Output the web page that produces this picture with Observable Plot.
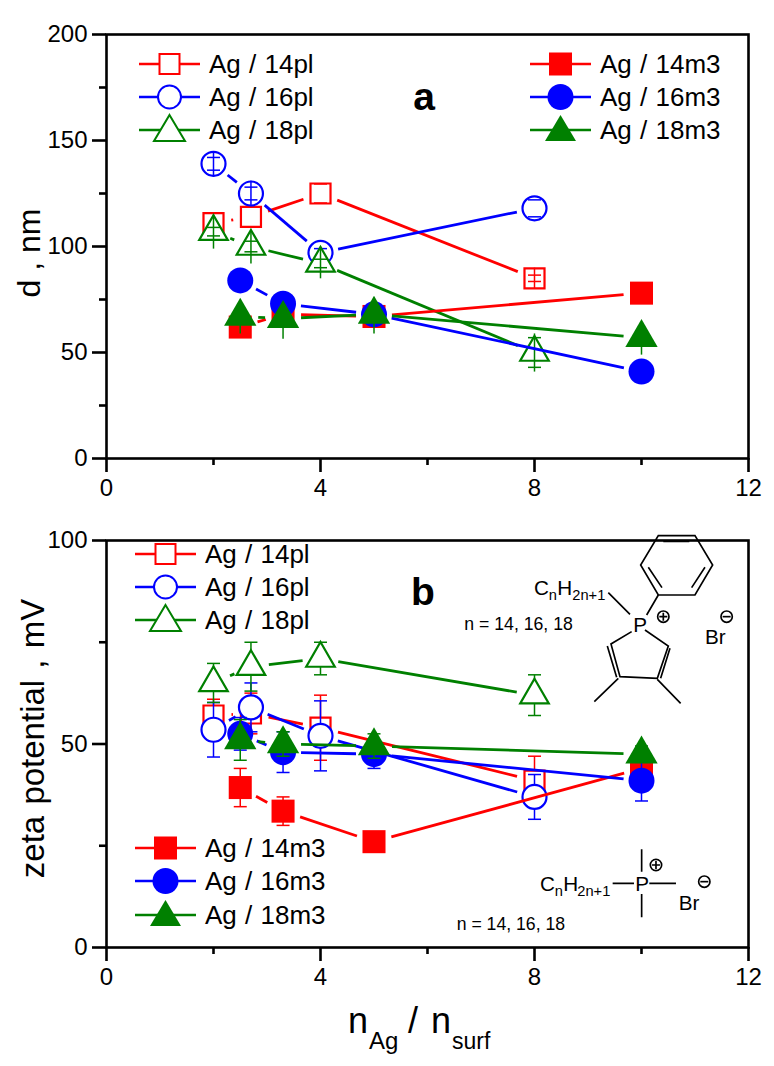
<!DOCTYPE html>
<html><head><meta charset="utf-8">
<script src="https://cdn.jsdelivr.net/npm/d3@7"></script>
<script src="https://cdn.jsdelivr.net/npm/@observablehq/plot@0.6"></script>
<style>
html,body{margin:0;padding:0;background:#fff}
#root{position:relative;width:774px;height:1066px;overflow:hidden;font-family:"Liberation Sans",Arial,sans-serif}
#root>svg,#root>.over>svg{position:absolute;left:0}
.leg{position:absolute;height:30px;display:flex;align-items:center}
.leg svg{display:block;flex:none;overflow:visible}
.leg span{font-size:26px;color:#000;white-space:nowrap;margin-left:8px;word-spacing:1px}
</style></head><body><div id="root"></div>
<script>
const xPl = [2, 2.7, 4, 8];
const xM3 = [2.5, 3.3, 5, 10];
const xMajor = [0, 4, 8, 12], xMinor = [2, 6, 10];

// panel a: d, nm
const a14pl = [111, 114, 125, 85];
const a16pl = [139, 125, 97, 118];
const a18pl = [107, 100, 92, 50];
const a14m3 = [62, 68, 67, 78];
const a16m3 = [84, 73, 68, 41];
const a18m3 = [67, 66, 68, 57];
// whisker reach up / down, and cap reach, in nm
const aWh14pl = [0, 0, 0, 5],    aCap14pl = [0, 0, 4.5, 1.5];
const aWh16pl = [6, 6, 3, 0],    aCap16pl = [3, 3, 2, 4];
const aWh18pl = [8, 8, 7, 9],    aCap18pl = [2, 2.5, 2, 7];
const aLo18m3 = [8, 9.5, 9, 8];

// panel b: zeta potential, mV
const b14pl = [57, 57.5, 54, 41];
const b16pl = [53.5, 59, 52, 37];
const b18pl = [65, 69, 71, 62];
const b14m3 = [39.3, 33.5, 26, 44];
const b16m3 = [52.5, 48, 47.5, 41];
const b18m3 = [51, 50, 49.5, 47.5];
const bEr14pl = [4, 5, 8, 6];
const bEr16pl = [6.7, 6, 8.6, 5.5];
const bEr18pl = [4.8, 6, 4, 5];
const bEr14m3 = [4.7, 3.5, 1, 2];
const bEr16m3 = [4, 5, 3.5, 5];
const bEr18m3 = [5, 3, 3, 2];

const RED = "#ff0000", BLUE = "#0000ff", GREEN = "#008000";
const W = 774, ML = 106, MR = 26;
const PX = (W - ML - MR) / 12;
const GAP = 18;            // gap kept between a line and its markers (px)
const FONT = '"Liberation Sans",Arial,sans-serif';
const R_OPEN = {square: 11.3, circle: 12, triangle: 10.6};
const R_FILL = {square: 13, circle: 13, triangle: 12};

// Connecting line broken around each marker, as in the original plotting style.
function segments(xs, ys, pxY) {
  const out = [];
  for (let i = 0; i + 1 < xs.length; i++) {
    const dx = (xs[i + 1] - xs[i]) * PX, dy = (ys[i + 1] - ys[i]) * pxY, d = Math.hypot(dx, dy);
    if (d <= 2 * GAP) continue;
    const t = GAP / d;
    out.push({
      x1: xs[i] + (xs[i + 1] - xs[i]) * t, y1: ys[i] + (ys[i + 1] - ys[i]) * t,
      x2: xs[i + 1] - (xs[i + 1] - xs[i]) * t, y2: ys[i + 1] - (ys[i + 1] - ys[i]) * t
    });
  }
  return out;
}
function seriesMarks(s, pxY, barsOnTop) {
  const pts = s.x.map((x, i) => ({x, y: s.y[i]}));
  const bars = s.x.map((x, i) => ({x, y1: s.y[i] + s.up[i], y2: s.y[i] - s.lo[i]})).filter(d => d.y1 !== d.y2);
  const caps = [];
  s.x.forEach((x, i) => {
    const c = 6.5 / PX;
    if (s.capUp[i] > 0) caps.push({x1: x - c, x2: x + c, y: s.y[i] + s.capUp[i]});
    if (s.capLo[i] > 0) caps.push({x1: x - c, x2: x + c, y: s.y[i] - s.capLo[i]});
  });
  const barMarks = [
    Plot.link(bars, {x1: "x", x2: "x", y1: "y1", y2: "y2", stroke: s.color, strokeWidth: 1.5}),
    Plot.link(caps, {x1: "x1", x2: "x2", y1: "y", y2: "y", stroke: s.color, strokeWidth: 1.5})
  ];
  const dots = Plot.dot(pts, {x: "x", y: "y", symbol: () => s.symbol, r: (s.filled ? R_FILL : R_OPEN)[s.symbol],
    fill: s.filled ? s.color : "white", stroke: s.filled ? "none" : s.color, strokeWidth: 2.2});
  const line = Plot.link(segments(s.x, s.y, pxY), {x1: "x1", y1: "y1", x2: "x2", y2: "y2", stroke: s.color, strokeWidth: 2.8});
  return barsOnTop ? [line, dots, ...barMarks] : [line, ...barMarks, dots];
}
function mk(x, y, color, symbol, filled, up, lo, capUp, capLo) {
  const z = x.map(() => 0);
  return {x, y, color, symbol, filled, up: up || z, lo: lo || up || z, capUp: capUp || up || z, capLo: capLo || capUp || lo || up || z};
}
function panel(series, yMax, yMajor, yMinor, top, height, mTop, mBottom, barsOnTop) {
  const pxY = (height - mTop - mBottom) / yMax;
  const p = Plot.plot({
    width: W, height, marginLeft: ML, marginRight: MR, marginTop: mTop, marginBottom: mBottom,
    style: {fontFamily: FONT, fontSize: "24px", color: "#000", background: "transparent", overflow: "visible"},
    x: {domain: [0, 12], label: null},
    y: {domain: [0, yMax], label: null},
    marks: [
      ...series.flatMap(s => seriesMarks(s, pxY, barsOnTop)),
      Plot.frame({stroke: "#000", strokeWidth: 2.6}),
      Plot.axisX({ticks: xMajor, tickSize: 14, strokeWidth: 2.6, tickPadding: 6, fontSize: 24, tickFormat: d => String(d), label: null}),
      Plot.axisX({ticks: xMinor, tickSize: 7, strokeWidth: 2.6, tickFormat: () => "", label: null}),
      Plot.axisY({ticks: yMajor, tickSize: 14, strokeWidth: 2.6, tickPadding: 5, fontSize: 24, tickFormat: d => String(d), label: null}),
      Plot.axisY({ticks: yMinor, tickSize: 7, strokeWidth: 2.6, tickFormat: () => "", label: null})
    ]
  });
  p.style.top = top + "px";
  return p;
}
const root = document.getElementById("root");
const seriesA = [
  mk(xPl, a14pl, RED, "square", false, aWh14pl, aWh14pl, aCap14pl),
  mk(xPl, a16pl, BLUE, "circle", false, aWh16pl, aWh16pl, aCap16pl),
  mk(xPl, a18pl, GREEN, "triangle", false, aWh18pl, aWh18pl, aCap18pl),
  mk(xM3, a14m3, RED, "square", true),
  mk(xM3, a16m3, BLUE, "circle", true),
  mk(xM3, a18m3, GREEN, "triangle", true, xM3.map(() => 0), aLo18m3, xM3.map(() => 0), xM3.map(() => 0))
];
const seriesB = [
  mk(xPl, b14pl, RED, "square", false, bEr14pl),
  mk(xPl, b16pl, BLUE, "circle", false, bEr16pl),
  mk(xPl, b18pl, GREEN, "triangle", false, bEr18pl),
  mk(xM3, b14m3, RED, "square", true, bEr14m3),
  mk(xM3, b16m3, BLUE, "circle", true, bEr16m3),
  mk(xM3, b18m3, GREEN, "triangle", true, bEr18m3)
];
root.append(panel(seriesA, 200, [0, 50, 100, 150, 200], [25, 75, 125, 175], 0, 500, 34, 42, true));
root.append(panel(seriesB, 100, [0, 50, 100], [25, 75], 500, 566, 40, 119, false));

// legends
function swatch(color, symbol, filled) {
  const st = filled ? `fill="${color}"` : `fill="white" stroke="${color}" stroke-width="2"`;
  let m;
  if (symbol === "square") m = filled ? `<rect x="19" y="3.5" width="23" height="23" ${st}/>` : `<rect x="20.5" y="5" width="20" height="20" ${st}/>`;
  if (symbol === "circle") m = `<circle cx="30.5" cy="15" r="${filled ? 13 : 11.5}" ${st}/>`;
  if (symbol === "triangle") m = `<path d="M30.5,0L46,26H15Z" ${st}/>`;
  return `<svg width="62" height="30"><line x1="0" x2="61" y1="15" y2="15" stroke="${color}" stroke-width="2.6"/>${m}</svg>`;
}
function legend(label, color, symbol, filled, x, y) {
  const d = document.createElement("div");
  d.className = "leg";
  d.style.left = x + "px"; d.style.top = (y - 15) + "px";
  d.innerHTML = swatch(color, symbol, filled) + `<span>${label}</span>`;
  root.append(d);
}
const legLabels = ["Ag / 14pl", "Ag / 16pl", "Ag / 18pl"];
const legLabelsM = ["Ag / 14m3", "Ag / 16m3", "Ag / 18m3"];
const legColors = [RED, BLUE, GREEN], legSymbols = ["square", "circle", "triangle"];
[64, 97, 130].forEach((y, i) => {
  legend(legLabels[i], legColors[i], legSymbols[i], false, 139, y);
  legend(legLabelsM[i], legColors[i], legSymbols[i], true, 530, y);
});
[554, 587, 620].forEach((y, i) => legend(legLabels[i], legColors[i], legSymbols[i], false, 135, y));
[848, 881, 915].forEach((y, i) => legend(legLabelsM[i], legColors[i], legSymbols[i], true, 135, y));

// titles, panel letters and structure drawings
const overlay = document.createElement("div");
overlay.className = "over";
overlay.innerHTML = `<svg width="774" height="1066" style="top:0;pointer-events:none" font-family='${FONT}' fill="#000">
<text x="424" y="110" font-size="39" font-weight="bold" text-anchor="middle">a</text>
<text x="423" y="605" font-size="39" font-weight="bold" text-anchor="middle">b</text>
<text transform="translate(40,253) rotate(-90)" font-size="32" text-anchor="middle">d , nm</text>
<text transform="translate(44,738.5) rotate(-90)" font-size="33" word-spacing="2" text-anchor="middle">zeta potential , mV</text>
<text x="348" y="1033" font-size="36">n</text><text x="369" y="1049" font-size="24">Ag</text>
<text x="408" y="1033" font-size="36">/</text><text x="431" y="1033" font-size="36">n</text><text x="452" y="1049" font-size="23">surf</text>
<g transform="translate(450,520) scale(0.3333)" stroke="#000" stroke-width="5" fill="none">
<path d="M625,47L735,47L788,135L735,225L625,225L572,135Z"/>
<path d="M640,64L718,64M595,142L636,203M765,142L725,203M625,225L590,285M475,218L540,283"/>
<path d="M545,335L483,372L510,470L622,475L655,378L585,330M472,378L500,472M660,385L632,475M505,475L433,545M622,478L692,550"/>
<circle cx="640" cy="290" r="17"/><path d="M628,290H652M640,278V302"/>
<circle cx="830" cy="290" r="17"/><path d="M818,290H842"/>
<g fill="#000" stroke="none" font-size="62">
<text x="252" y="225">C</text><text x="296" y="240" font-size="44">n</text><text x="322" y="225">H</text><text x="367" y="240" font-size="44">2n+1</text>
<text x="550" y="335">P</text><text x="765" y="372">Br</text><text x="43" y="330" font-size="53">n = 14, 16, 18</text></g></g>
<g transform="translate(450,830) scale(0.3333)" stroke="#000" stroke-width="5" fill="none">
<path d="M488,160H552M598,160H678M575,58V125M575,192V262"/>
<circle cx="618" cy="105" r="17"/><path d="M606,105H630M618,93V117"/>
<circle cx="763" cy="155" r="17"/><path d="M751,155H775"/>
<g fill="#000" stroke="none" font-size="62">
<text x="270" y="182">C</text><text x="314" y="197" font-size="44">n</text><text x="340" y="182">H</text><text x="382" y="197" font-size="44">2n+1</text>
<text x="556" y="182">P</text><text x="686" y="240">Br</text><text x="20" y="300" font-size="53">n = 14, 16, 18</text></g></g>
</svg>`;
root.append(overlay);
</script></body></html>
